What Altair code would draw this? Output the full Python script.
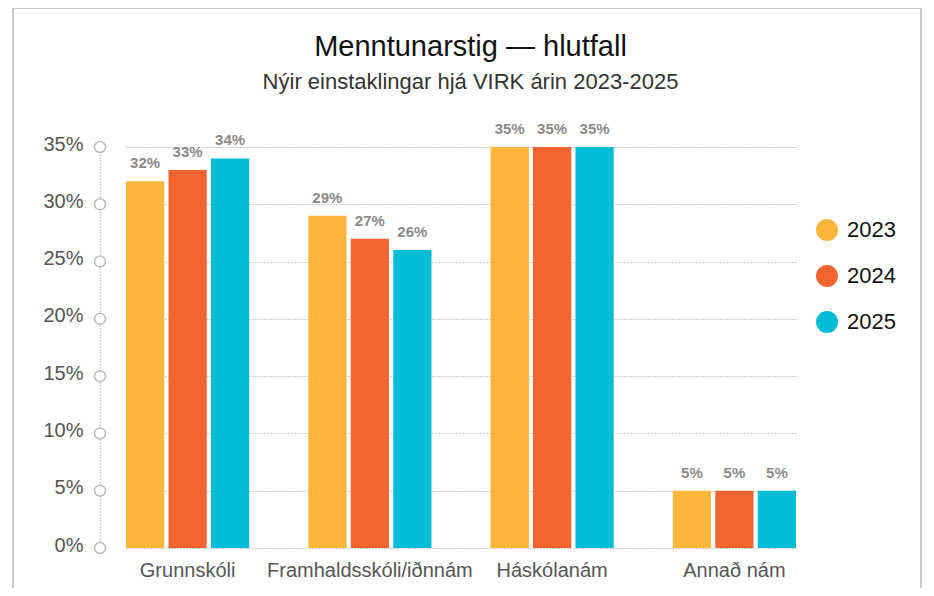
import altair as alt
import pandas as pd

categories = ["Grunnskóli", "Framhaldsskóli/iðnnám", "Háskólanám", "Annað nám"]
years = ["2023", "2024", "2025"]
v2023 = [32, 29, 35, 5]
v2024 = [33, 27, 35, 5]
v2025 = [34, 26, 35, 5]
tick_values = [0, 5, 10, 15, 20, 25, 30, 35]
colors = ["#FDB53B", "#F26532", "#00BCD4"]

rows = []
for i, c in enumerate(categories):
    for y, vals in zip(years, [v2023, v2024, v2025]):
        rows.append({"cat": c, "year": y, "value": vals[i], "label": f"{vals[i]}%"})
df = pd.DataFrame(rows)
ticks = pd.DataFrame({"t": tick_values})

FONT = "Liberation Sans"

x_scale = alt.Scale(range=[26, 696], paddingInner=0.324, paddingOuter=0)
x_enc = alt.X("cat:N", sort=categories, scale=x_scale,
              axis=alt.Axis(title=None, labelAngle=0, ticks=False, domain=False,
                            labelFontSize=20, labelColor="#555", labelPadding=12,
                            labelFont=FONT, grid=False, labelLimit=400))
y_scale = alt.Scale(domain=[0, 35], nice=False)
xoff = alt.XOffset("year:N", scale=alt.Scale(paddingInner=0.1))

bars = alt.Chart(df).mark_bar().encode(
    x=x_enc,
    xOffset=xoff,
    y=alt.Y("value:Q", scale=y_scale,
            axis=alt.Axis(title=None, values=tick_values, labelExpr="datum.value + '%'",
                          ticks=False, domain=True, domainDash=[1, 2], domainColor="#aaa",
                          domainWidth=1.5,
                          grid=True, gridDash=[1, 2], gridColor="#999", gridWidth=1,
                          labelFontSize=20, labelColor="#555", labelPadding=17,
                          labelOffset=-3, labelFont=FONT)),
    color=alt.Color("year:N", scale=alt.Scale(domain=years, range=colors),
                    legend=alt.Legend(title=None, orient="none", legendX=716, legendY=72,
                                      symbolType="circle", symbolSize=484,
                                      symbolStrokeWidth=0, labelFontSize=22,
                                      labelColor="#111", labelFont=FONT,
                                      labelOffset=9, rowPadding=24, padding=0)),
)

labels = alt.Chart(df).mark_text(baseline="alphabetic", dy=-13, fontSize=15,
                                 fontWeight="bold", color="#8a8a8a", font=FONT).encode(
    x=alt.X("cat:N", sort=categories, scale=x_scale),
    xOffset=xoff,
    y=alt.Y("value:Q", scale=y_scale),
    text="label:N",
)

circles = alt.Chart(ticks).mark_point(shape="circle", size=121, filled=True,
                                      fill="white", stroke="#bbb", strokeWidth=1.5,
                                      opacity=1).encode(
    x=alt.value(0),
    y=alt.Y("t:Q", scale=y_scale),
)

border = alt.Chart(pd.DataFrame({"a": [0]})).mark_rect(
    fill=None, stroke="#c8c8c8", strokeWidth=2).encode(
    x=alt.value(-87), x2=alt.value(821), y=alt.value(-139), y2=alt.value(460))

chart = alt.layer(border, bars, labels, circles).properties(
    width=705, height=401,
    autosize=alt.AutoSizeParams(type="none"),
    padding={"left": 92, "top": 139, "right": 119, "bottom": 40},
    title=alt.TitleParams(
        "Menntunarstig — hlutfall",
        subtitle="Nýir einstaklingar hjá VIRK árin 2023-2025",
        fontSize=29, fontWeight="normal", color="#111", font=FONT,
        subtitleFontSize=22, subtitleColor="#333", subtitleFont=FONT,
        subtitlePadding=10, anchor="middle", dx=18, offset=-86),
).configure_view(stroke=None)

chart.save("out.html", embed_options={"renderer": "svg", "actions": False})
